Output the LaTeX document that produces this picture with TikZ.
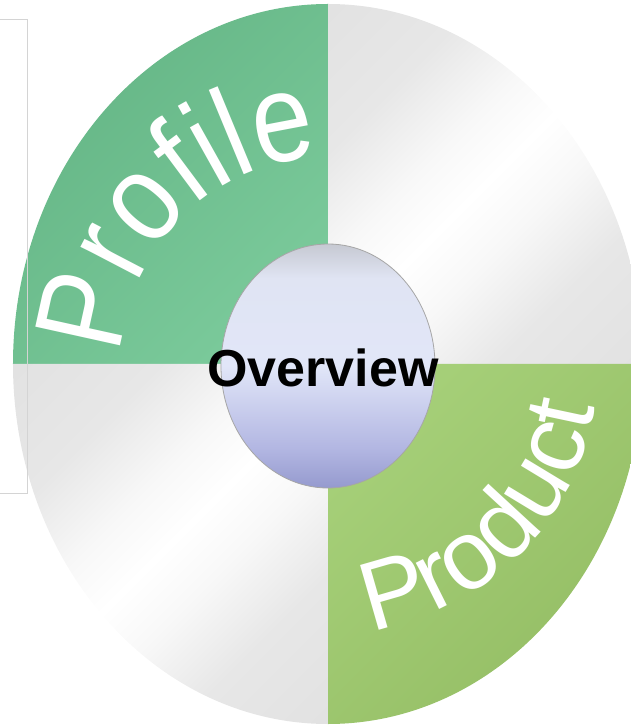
\documentclass[tikz,border=0pt]{standalone}
\usepackage{fontspec}
\setmainfont{Liberation Sans}
\newfontfamily\arcfont[FakeStretch=0.86]{Liberation Sans}
\usetikzlibrary{decorations.text,shapes.geometric}
\definecolor{greenA}{HTML}{64B585}
\definecolor{greenB}{HTML}{7BCA9B}
\definecolor{limeA}{HTML}{A6D079}
\definecolor{limeB}{HTML}{94BD64}
\definecolor{gEdge}{HTML}{DDDDDD}
\definecolor{gOut}{HTML}{E7E7E7}
\definecolor{gMid}{HTML}{F8F8F8}
\definecolor{gTop}{HTML}{FFFFFF}
\definecolor{frameline}{HTML}{D4D4D4}
\definecolor{sA}{HTML}{959ACE}
\definecolor{sB}{HTML}{B2B6E2}
\definecolor{sC}{HTML}{E1E6F8}
\definecolor{sD}{HTML}{E0E4F3}
\definecolor{sE}{HTML}{C6C9D2}
\pgfdeclareverticalshading{spherefill}{100bp}{color(0bp)=(sA); color(25bp)=(sA); color(33bp)=(sB); color(50bp)=(sC); color(68bp)=(sD); color(75bp)=(sE); color(100bp)=(sE)}
\pgfdeclarehorizontalshading{ringfill}{100bp}{color(0bp)=(gEdge); color(30bp)=(gOut); color(42bp)=(gMid); color(50bp)=(gTop); color(58bp)=(gMid); color(70bp)=(gOut); color(100bp)=(gEdge)}
\tikzset{
  quadgreen/.style={top color=greenA, bottom color=greenB, shading angle=45},
  quadlime/.style={top color=limeA, bottom color=limeB, shading angle=45},
  quadgray/.style={shading=ringfill, shading angle=-45},
  arclabel/.style={decorate, decoration={text along path, text align=center, text color=white, #1}},
  hub/.style={ellipse, minimum width=214, minimum height=244, inner sep=0, shading=spherefill, draw=black!35, line width=0.8pt},
  hubtext/.style={font=\fontsize{52}{52}\selectfont\bfseries, anchor=base, inner sep=0}
}
\begin{document}
\begin{tikzpicture}[x=1pt,y=1pt]
\useasboundingbox (-328,-361) rectangle (303,364);
\clip (-328,-361) rectangle (303,364);
% quadrants of the disc
\shade[quadgreen] (0,0) -- (-315,0) arc[start angle=180, end angle=90, x radius=315, y radius=360] -- cycle;
\shade[quadgray] (0,0) -- (0,360) arc[start angle=90, end angle=0, x radius=315, y radius=360] -- cycle;
\shade[quadgray] (0,0) -- (0,-360) arc[start angle=270, end angle=180, x radius=315, y radius=360] -- cycle;
\shade[quadlime] (0,0) -- (315,0) arc[start angle=0, end angle=-90, x radius=315, y radius=360] -- cycle;
% curved labels
\path[arclabel={text={|\arcfont\fontsize{126}{126}\selectfont|Profile}}] (180:207) arc[start angle=180, end angle=90, radius=207];
\path[arclabel={text={|\fontsize{98}{98}\selectfont|Product}}] (270:270) arc[start angle=270, end angle=360, radius=270];
% centre sphere
\node[hub] (hubnode) at (0,-2) {};
\node[hubtext] (ov) at (-5,-23) {Overview};
% thin frame at the left
\draw[frameline, line width=0.8pt] (-328,345) -- (-301,345) -- (-301,-129) -- (-328,-129);
\end{tikzpicture}
\end{document}
